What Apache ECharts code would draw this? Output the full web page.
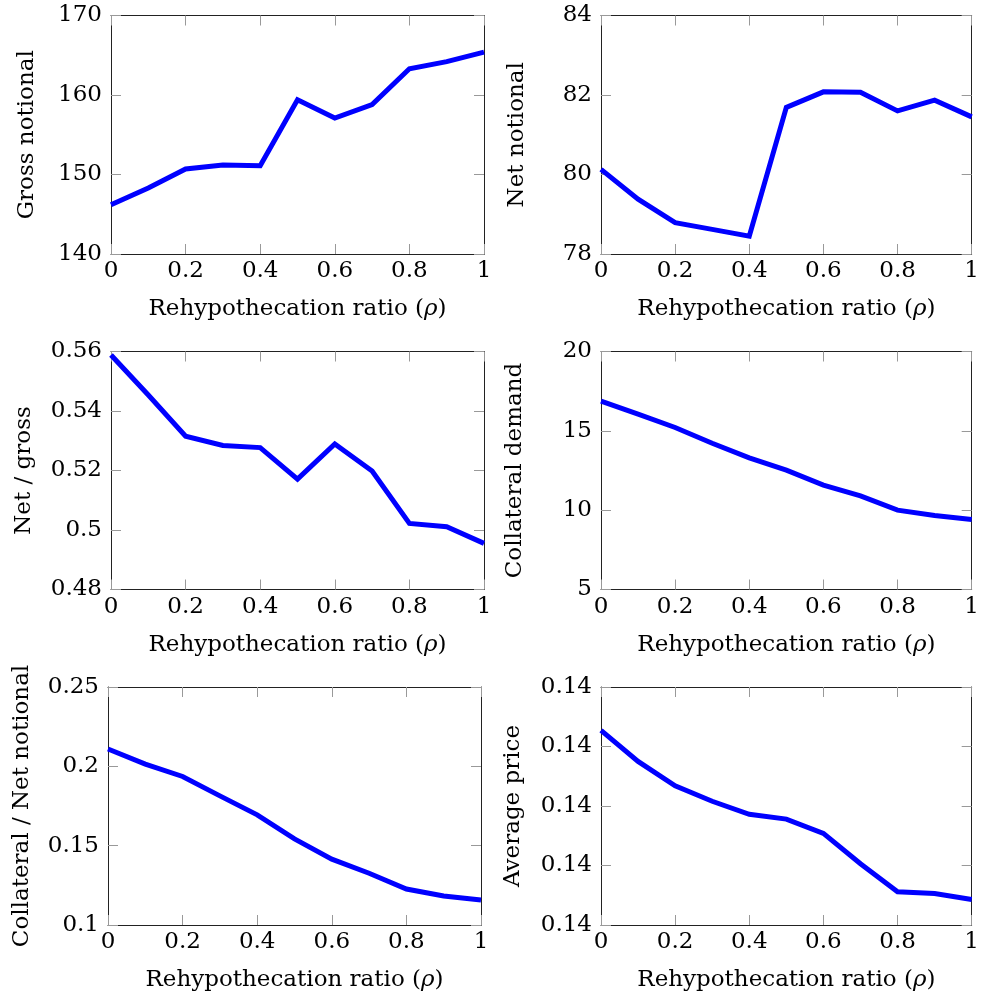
<!DOCTYPE html>
<html>
<head>
<meta charset="utf-8">
<script src="https://cdn.jsdelivr.net/npm/echarts@6/dist/echarts.min.js"></script>
<style>
html,body{margin:0;padding:0;background:#fff;}
#chart{width:982px;height:1003px;}
</style>
</head>
<body>
<div id="chart"></div>
<script>
// ---- data ----
const rho = [0, 0.1, 0.2, 0.3, 0.4, 0.5, 0.6, 0.7, 0.8, 0.9, 1];
const xTicks = [0, 0.2, 0.4, 0.6, 0.8, 1];
const xAxisTitle = 'Rehypothecation ratio ({i|\u03c1})';

const grossNotional = [146.2, 148.3, 150.7, 151.2, 151.1, 159.4, 157.1, 158.8, 163.3, 164.2, 165.4];
const netNotional = [80.13, 79.38, 78.79, 78.62, 78.45, 81.69, 82.08, 82.07, 81.60, 81.87, 81.45];
const netOverGross = [0.5588, 0.5454, 0.5315, 0.5284, 0.5277, 0.5171, 0.5289, 0.5198, 0.5022, 0.5011, 0.4955];
const collateralDemand = [16.87, 16.05, 15.21, 14.22, 13.30, 12.52, 11.58, 10.90, 10.00, 9.66, 9.41];
const collateralOverNet = [0.2109, 0.2014, 0.1936, 0.1814, 0.1694, 0.1543, 0.1415, 0.1326, 0.1227, 0.1183, 0.1158];
const averagePrice = [0.140327, 0.140275, 0.140234, 0.140208, 0.140186, 0.140178, 0.140154, 0.140103, 0.140056, 0.140053, 0.140043];

const yTitles = ['Gross notional', 'Net notional', 'Net / gross', 'Collateral demand', 'Collateral / Net notional', 'Average price'];
const yRanges = [
  [140, 170, 10],
  [78, 84, 2],
  [0.48, 0.56, 0.02],
  [5, 20, 5],
  [0.1, 0.25, 0.05],
  [0.1400, 0.1404, 0.0001]
];
const seriesValues = [grossNotional, netNotional, netOverGross, collateralDemand, collateralOverNet, averagePrice];

// ---- layout ----
const grids = [
  {left: 111, top: 15.5, width: 373, height: 238.5},
  {left: 601, top: 15.5, width: 372, height: 238.5},
  {left: 111, top: 351.5, width: 373, height: 238},
  {left: 601, top: 351.5, width: 372, height: 238},
  {left: 108, top: 687, width: 373, height: 238},
  {left: 601, top: 687, width: 372, height: 238}
];
const yNameGaps = [72, 72, 75, 74, 74, 76];

const FONT = 'DejaVu Serif';
const FS = 23;
const frameColor = '#222';
const tickColor = '#999';

const xAxes = [], yAxes = [], series = [];
grids.forEach((g, i) => {
  const [ymin, ymax, yint] = yRanges[i];
  const yFmt = i === 5 ? (v => v.toFixed(2)) : (v => String(+v.toFixed(6)));
  xAxes.push({
    type: 'value', gridIndex: i, position: 'bottom', min: 0, max: 1, interval: 0.2,
    name: xAxisTitle, nameLocation: 'middle', nameGap: 44,
    nameTextStyle: {fontFamily: FONT, fontSize: FS, color: '#000',
      rich: {i: {fontFamily: FONT, fontSize: FS, fontStyle: 'italic', color: '#000'}}},
    axisLine: {show: true, onZero: false, lineStyle: {color: frameColor, width: 1}},
    axisTick: {show: true, inside: true, length: 10, lineStyle: {color: tickColor, width: 1}},
    axisLabel: {show: true, fontFamily: FONT, fontSize: FS, color: '#000', margin: 6,
      formatter: v => String(+v.toFixed(6))},
    splitLine: {show: false}
  });
  xAxes.push({
    type: 'value', gridIndex: i, position: 'top', min: 0, max: 1, interval: 0.2,
    axisLine: {show: true, onZero: false, lineStyle: {color: frameColor, width: 1}},
    axisTick: {show: true, inside: true, length: 10, lineStyle: {color: tickColor, width: 1}},
    axisLabel: {show: false},
    splitLine: {show: false}
  });
  yAxes.push({
    type: 'value', gridIndex: i, position: 'left', min: ymin, max: ymax, interval: yint,
    name: yTitles[i], nameLocation: 'middle', nameGap: yNameGaps[i], nameRotate: 90,
    nameTextStyle: {fontFamily: FONT, fontSize: FS, color: '#000'},
    axisLine: {show: true, onZero: false, lineStyle: {color: frameColor, width: 1}},
    axisTick: {show: true, inside: true, length: 10, lineStyle: {color: tickColor, width: 1}},
    axisLabel: {show: true, fontFamily: FONT, fontSize: FS, color: '#000', margin: 9, formatter: yFmt},
    splitLine: {show: false}
  });
  yAxes.push({
    type: 'value', gridIndex: i, position: 'right', min: ymin, max: ymax, interval: yint,
    axisLine: {show: true, onZero: false, lineStyle: {color: frameColor, width: 1}},
    axisTick: {show: true, inside: true, length: 10, lineStyle: {color: tickColor, width: 1}},
    axisLabel: {show: false},
    splitLine: {show: false}
  });
  series.push({
    type: 'line', xAxisIndex: 2 * i, yAxisIndex: 2 * i,
    data: rho.map((x, k) => [x, seriesValues[i][k]]),
    showSymbol: false, symbol: 'none',
    lineStyle: {color: '#0000ff', width: 5, join: 'miter'},
    itemStyle: {color: '#0000ff'},
    z: 3
  });
});

const chart = echarts.init(document.getElementById('chart'), null, {renderer: 'canvas'});
chart.setOption({
  animation: false,
  backgroundColor: '#fff',
  grid: grids.map(g => Object.assign({containLabel: false}, g)),
  xAxis: xAxes,
  yAxis: yAxes,
  series: series
});
</script>
</body>
</html>
